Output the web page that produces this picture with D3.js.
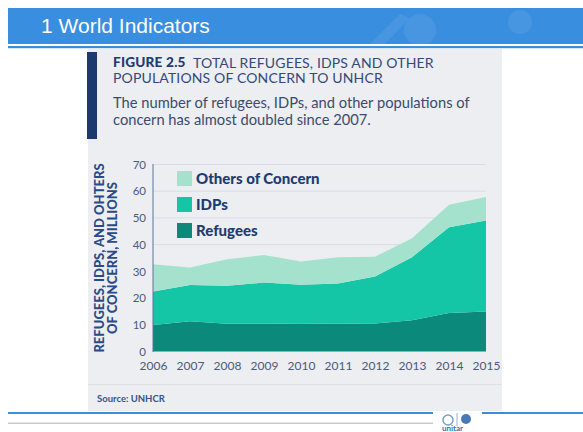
<!DOCTYPE html>
<html><head><meta charset="utf-8">
<script src="https://cdn.jsdelivr.net/npm/d3@7"></script>
<style>html,body{margin:0;padding:0;background:#fff;}svg{display:block;}</style>
</head><body>
<script>
const years = [2006, 2007, 2008, 2009, 2010, 2011, 2012, 2013, 2014, 2015];
const refugees = [9.9, 11.3, 10.4, 10.4, 10.5, 10.4, 10.5, 11.7, 14.4, 15.0];
const idps = [12.6, 13.6, 14.2, 15.4, 14.5, 15.1, 17.6, 23.6, 32.1, 34.0];
const others = [10.2, 6.5, 9.9, 10.3, 8.7, 9.8, 7.4, 7.1, 8.4, 8.8];
const seriesNames = ["Refugees", "IDPs", "Others of Concern"];
const seriesColors = ["#0b8a7c", "#14c6a6", "#a5e2cd"];
const yTicks = [0, 10, 20, 30, 40, 50, 60, 70];

const W = 583, H = 432;
const svg = d3.select("body").append("svg").attr("width", W).attr("height", H);
svg.append("rect").attr("width", W).attr("height", H).attr("fill", "#fff");

// header
svg.append("rect").attr("x", 8).attr("y", 8).attr("width", W - 8).attr("height", 36).attr("fill", "#3a8ee0");
svg.append("rect").attr("x", 8).attr("y", 46).attr("width", W - 8).attr("height", 2.2).attr("fill", "#3a8ee0");
svg.append("text").attr("x", 41).attr("y", 33).attr("fill", "#fff")
  .attr("font-family", "Liberation Sans, Arial, sans-serif").attr("font-size", 21).text("1 World Indicators");
const deco = svg.append("g").attr("opacity", 0.07).attr("fill", "#fff");
deco.append("circle").attr("cx", 420).attr("cy", 30).attr("r", 16);
deco.append("circle").attr("cx", 520).attr("cy", 22).attr("r", 12);
deco.append("path").attr("d", "M370,44 L400,14 L410,18 L385,44 Z");

// panel
svg.append("rect").attr("x", 88).attr("y", 49).attr("width", 414).attr("height", 362).attr("fill", "#eceef1");
svg.append("rect").attr("x", 87).attr("y", 52).attr("width", 10).attr("height", 87).attr("fill", "#1c3a6e");
svg.append("line").attr("x1", 88).attr("x2", 502).attr("y1", 384.5).attr("y2", 384.5).attr("stroke", "#dde0e5").attr("stroke-width", 1);

const font = "Lato, 'Open Sans', sans-serif";
const navy = "#1f3b72";
svg.append("text").attr("x", 113).attr("y", 67).attr("font-family", font).attr("font-size", 13.6)
  .attr("font-weight", 900).attr("letter-spacing", 0.2).attr("fill", navy).text("FIGURE 2.5");
svg.append("text").attr("x", 193).attr("y", 67.5).attr("font-family", font).attr("font-size", 14)
  .attr("letter-spacing", 0.15).attr("fill", "#34497a").text("TOTAL REFUGEES, IDPS AND OTHER");
svg.append("text").attr("x", 113).attr("y", 82.5).attr("font-family", font).attr("font-size", 14)
  .attr("letter-spacing", 0.15).attr("fill", "#34497a").text("POPULATIONS OF CONCERN TO UNHCR");
svg.append("text").attr("x", 113).attr("y", 108).attr("font-family", font).attr("font-size", 14.7).attr("fill", "#3b4b6e")
  .text("The number of refugees, IDPs, and other populations of");
svg.append("text").attr("x", 113).attr("y", 125).attr("font-family", font).attr("font-size", 14.7).attr("fill", "#3b4b6e")
  .text("concern has almost doubled since 2007.");

// chart
const x = d3.scaleLinear().domain([2006, 2015]).range([153, 486]);
const y = d3.scaleLinear().domain([0, 70]).range([351.5, 164.5]);

svg.append("g").selectAll("line").data(yTicks.filter(d => d > 0)).join("line")
  .attr("x1", 153).attr("x2", 486).attr("y1", d => y(d)).attr("y2", d => y(d))
  .attr("stroke", "#dadde3").attr("stroke-width", 1);

const table = years.map((yr, i) => ({year: yr, Refugees: refugees[i], IDPs: idps[i], "Others of Concern": others[i]}));
const stack = d3.stack().keys(seriesNames)(table);
const area = d3.area().x(d => x(d.data.year)).y0(d => y(d[0])).y1(d => y(d[1]));
svg.append("g").selectAll("path").data(stack).join("path")
  .attr("d", area).attr("fill", (d, i) => seriesColors[i]);

svg.append("line").attr("x1", 153).attr("x2", 153).attr("y1", 164).attr("y2", 352)
  .attr("stroke", "#5e7298").attr("stroke-width", 1);

const yAxis = d3.axisLeft(y).tickValues(yTicks).tickSize(0).tickPadding(0);
const gy = svg.append("g").attr("transform", "translate(146,0)").call(yAxis);
gy.select(".domain").remove();
gy.selectAll("text").attr("font-family", font).attr("font-size", 11.5).attr("fill", "#4b5a78");

const xAxis = d3.axisBottom(x).tickValues(years).tickFormat(d3.format("d")).tickSize(0).tickPadding(0);
const gx = svg.append("g").attr("transform", "translate(0,361)").call(xAxis);
gx.select(".domain").remove();
gx.selectAll("text").attr("font-family", font).attr("font-size", 12).attr("fill", "#4b5a78");

// y title
const yt = svg.append("g").attr("transform", "translate(104,258) rotate(-90)");
yt.append("text").attr("text-anchor", "middle").attr("font-family", font).attr("font-weight", 900)
  .attr("font-size", 13).attr("fill", "#2a4a8a").text("REFUGEES, IDPS, AND OHTERS");
yt.append("text").attr("y", 13).attr("text-anchor", "middle").attr("font-family", font).attr("font-weight", 900)
  .attr("font-size", 13).attr("fill", "#2a4a8a").text("OF CONCERN, MILLIONS");

// legend
const legendOrder = [2, 1, 0];
const lg = svg.append("g").selectAll("g").data(legendOrder).join("g")
  .attr("transform", (d, i) => `translate(177,${171 + i * 26})`);
lg.append("rect").attr("width", 15).attr("height", 15).attr("fill", d => seriesColors[d]);
lg.append("text").attr("x", 19).attr("y", 13).attr("font-family", font).attr("font-weight", 900)
  .attr("font-size", 15).attr("fill", navy).text(d => seriesNames[d]);

svg.append("text").attr("x", 97).attr("y", 402).attr("font-family", font).attr("font-weight", 700)
  .attr("font-size", 9.5).attr("fill", "#3a5285").text("Source: UNHCR");

// footer
svg.append("rect").attr("x", 8).attr("y", 412).attr("width", 425).attr("height", 2).attr("fill", "#3a8ee0");
svg.append("rect").attr("x", 482).attr("y", 412).attr("width", 101).attr("height", 2).attr("fill", "#3a8ee0");
svg.append("rect").attr("x", 8).attr("y", 422.5).attr("width", 425).attr("height", 1.5).attr("fill", "#c8c8c8");
svg.append("circle").attr("cx", 448).attr("cy", 420).attr("r", 5).attr("fill", "none").attr("stroke", "#7a9cc8").attr("stroke-width", 1.5);
svg.append("line").attr("x1", 457).attr("x2", 457).attr("y1", 413).attr("y2", 426).attr("stroke", "#9ab0cc");
svg.append("circle").attr("cx", 466).attr("cy", 419).attr("r", 5).attr("fill", "#4a78b8");
svg.append("text").attr("x", 442).attr("y", 431).attr("font-family", font).attr("font-weight", 700)
  .attr("font-size", 8).attr("fill", "#3a6db0").text("unitar");
</script>
</body></html>
